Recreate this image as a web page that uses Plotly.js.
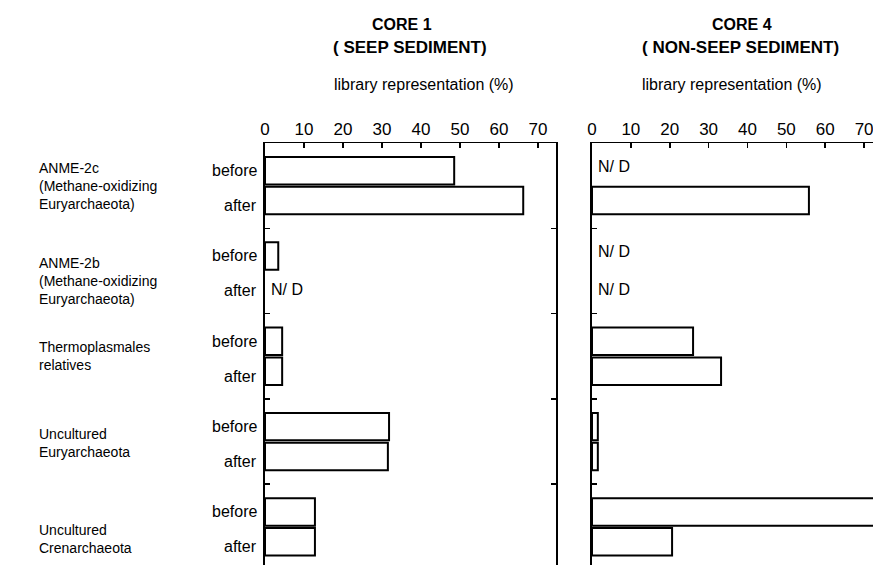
<!DOCTYPE html>
<html>
<head>
<meta charset="utf-8">
<script src="https://cdn.plot.ly/plotly-3.0.1.min.js"></script>
<style>
  html, body { margin: 0; padding: 0; background: #fff; overflow: hidden; }
  #chart { width: 900px; height: 600px; }
</style>
</head>
<body>
<div id="chart"></div>
<script>
// ---- data ----
const groups = ['ANME-2c', 'ANME-2b', 'Thermoplasmales', 'Uncultured Euryarchaeota', 'Uncultured Crenarchaeota'];
const groupLabels = [
  'ANME-2c<br>(Methane-oxidizing<br>Euryarchaeota)',
  'ANME-2b<br>(Methane-oxidizing<br>Euryarchaeota)',
  'Thermoplasmales<br>relatives',
  'Uncultured<br>Euryarchaeota',
  'Uncultured<br>Crenarchaeota'
];
const seriesNames = ['before', 'after'];
// library representation (%); null = N/D (not detected)
const core1Before = [48.5, 3.4, 4.4, 31.8, 12.8];
const core1After  = [66.2, null, 4.4, 31.5, 12.8];
const core4Before = [null, null, 26.0, 1.5, 78.0];
const core4After  = [55.8, null, 33.2, 1.5, 20.6];
const xTickVals = [0, 10, 20, 30, 40, 50, 60, 70];
const panelTitles = ['CORE 1', 'CORE 4'];
const panelSubtitles = ['( SEEP SEDIMENT)', '( NON-SEEP SEDIMENT)'];
const axisTitle = 'library representation (%)';
const ndText = 'N/ D';

// ---- layout helpers ----
const W = 900, H = 600;
const FONT = 'Liberation Sans, Arial, Helvetica, sans-serif';
const px = v => v / W;
const py = v => 1 - v / H;

const barStyle = { color: '#ffffff', line: { color: '#000000', width: 2 } };

const panels = [
  { xa: 'x', ya: 'y', before: core1Before, after: core1After },
  { xa: 'x2', ya: 'y2', before: core4Before, after: core4After }
];

const traces = [];
panels.forEach(p => {
  [p.before, p.after].forEach((vals, si) => {
    traces.push({
      type: 'bar', orientation: 'h',
      x: vals, y: groups, name: seriesNames[si],
      xaxis: p.xa, yaxis: p.ya,
      marker: barStyle, showlegend: false, hoverinfo: 'x+y'
    });
  });
});

function xAxis(domain, anchor) {
  return {
    domain: domain, anchor: anchor, range: [0, 74.6], side: 'top',
    showline: true, linecolor: '#000', linewidth: 1.5, mirror: 'ticks',
    ticks: 'inside', ticklen: 5, tickwidth: 1.5, tickcolor: '#000',
    tickmode: 'array', tickvals: xTickVals,
    tickfont: { family: FONT, size: 17, color: '#000' },
    showgrid: false, zeroline: false, automargin: false, fixedrange: true
  };
}
function yAxis(anchor) {
  return {
    domain: [py(569.5), py(143)], anchor: anchor, type: 'category',
    categoryarray: groups, range: [groups.length - 0.5, -0.5],
    tickson: 'boundaries', ticks: 'inside', ticklen: 5, tickwidth: 1.5, tickcolor: '#000',
    showticklabels: false, showline: true, linecolor: '#000', linewidth: 2, mirror: 'ticks',
    showgrid: false, zeroline: false, automargin: false, fixedrange: true
  };
}

const annotations = [];
// panel titles
const titleX = [[401.5, 410, 423.5], [742, 740, 732]];
panelTitles.forEach((t, i) => {
  annotations.push({ xref: 'paper', yref: 'paper', x: px(titleX[i][0]), y: py(24), text: '<b>' + t + '</b>',
    showarrow: false, xanchor: 'center', yanchor: 'middle', font: { family: FONT, size: 16, color: '#000' } });
  annotations.push({ xref: 'paper', yref: 'paper', x: px(titleX[i][1]), y: py(47), text: '<b>' + panelSubtitles[i] + '</b>',
    showarrow: false, xanchor: 'center', yanchor: 'middle', font: { family: FONT, size: 17, color: '#000' } });
  annotations.push({ xref: 'paper', yref: 'paper', x: px(titleX[i][2]), y: py(85), text: axisTitle,
    showarrow: false, xanchor: 'center', yanchor: 'middle', font: { family: FONT, size: 16, color: '#000' } });
});
// group labels (left column)
const groupLabelShift = [0, -10, 0, -1, -12];
groups.forEach((g, gi) => {
  annotations.push({ xref: 'paper', yref: 'y', x: px(37), y: g, text: groupLabels[gi],
    showarrow: false, xanchor: 'left', yanchor: 'middle', align: 'left', yshift: groupLabelShift[gi],
    font: { family: FONT, size: 14, color: '#000' } });
  // before / after labels
  seriesNames.forEach((s, si) => {
    annotations.push({ xref: 'paper', yref: 'y', x: px(259), y: g, text: s,
      showarrow: false, xanchor: 'right', yanchor: 'middle', yshift: si === 0 ? 15 : -20,
      font: { family: FONT, size: 16, color: '#000' } });
  });
});
// N/D markers from null values
panels.forEach(p => {
  [p.before, p.after].forEach((vals, si) => {
    vals.forEach((v, gi) => {
      if (v === null) {
        annotations.push({ xref: p.xa, yref: p.ya, x: 0, y: groups[gi], text: ndText,
          showarrow: false, xanchor: 'left', yanchor: 'middle', xshift: 4, yshift: si === 0 ? 19 : -19,
          font: { family: FONT, size: 16, color: '#000' } });
      }
    });
  });
});

const layout = {
  width: W, height: H,
  margin: { l: 0, r: 0, t: 0, b: 0 },
  paper_bgcolor: '#fff', plot_bgcolor: '#fff',
  font: { family: FONT, color: '#000' },
  barmode: 'group', bargap: 0.30, bargroupgap: 0.08,
  xaxis: xAxis([px(265), px(556)], 'y'),
  yaxis: yAxis('x'),
  xaxis2: xAxis([px(592), px(882)], 'y2'),
  yaxis2: yAxis('x2'),
  annotations: annotations,
  showlegend: false
};

Plotly.newPlot('chart', traces, layout, { displayModeBar: false, staticPlot: true });
</script>
</body>
</html>
